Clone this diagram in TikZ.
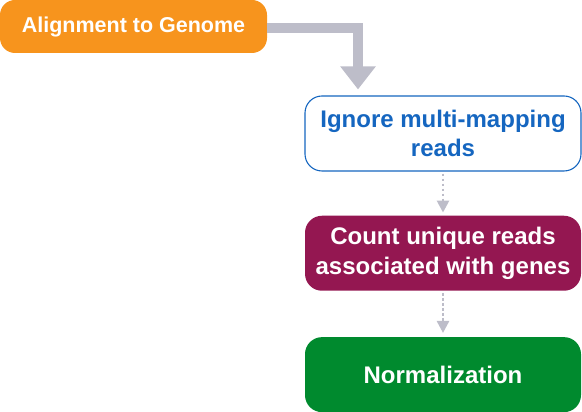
\documentclass[tikz,border=0pt]{standalone}
\usepackage{fontspec}
\setmainfont{Liberation Sans}
\usetikzlibrary{arrows.meta,positioning}
\definecolor{StepOrange}{HTML}{F7941D}
\definecolor{StepBlue}{HTML}{1566C0}
\definecolor{StepPurple}{HTML}{941751}
\definecolor{StepGreen}{HTML}{008A2E}
\definecolor{FlowGray}{HTML}{BDBDC9}
\begin{document}
\begin{tikzpicture}[x=1pt,y=1pt,node distance=44pt]
    \tikzset{stepbox/.style={rounded corners=17pt,minimum width=276pt,minimum height=75pt,align=center,inner sep=0pt,
        font=\fontsize{24}{29.5}\selectfont\bfseries},
      bigflow/.style={draw=FlowGray,line width=10pt,-{Triangle[width=34pt,length=23pt]}},
      dotflow/.style={draw=FlowGray,line width=2.6pt,dash pattern=on 2.6pt off 2.4pt,-{Triangle[width=12pt,length=12pt]}}}
    \useasboundingbox (0,0) rectangle (582,412);
    \node[rounded corners=15pt,fill=StepOrange,text=white,minimum width=267pt,minimum height=53pt,inner sep=0pt,
      font=\fontsize{21.5}{26}\selectfont\bfseries] (align) at (133.5,385.5) {Alignment to Genome};
    \node[stepbox,draw=StepBlue,line width=1.1pt,fill=white,text=StepBlue] (ignore) at (443,278.5)
      {Ignore multi-mapping\\reads};
    \node[stepbox,fill=StepPurple,text=white,below=of ignore] (count)
      {Count unique reads\\associated with genes};
    \node[stepbox,fill=StepGreen,text=white,below=46pt of count] (norm) {Normalization};
    \draw[bigflow] ([yshift=-1.5pt]align.east) -| ([xshift=-85pt,yshift=6pt]ignore.north);
    \draw[dotflow] ([yshift=-2pt]ignore.south) -- ([yshift=3pt]count.north);
    \draw[dotflow] ([yshift=-2pt]count.south) -- ([yshift=4pt]norm.north);
  \end{tikzpicture}
\end{document}
